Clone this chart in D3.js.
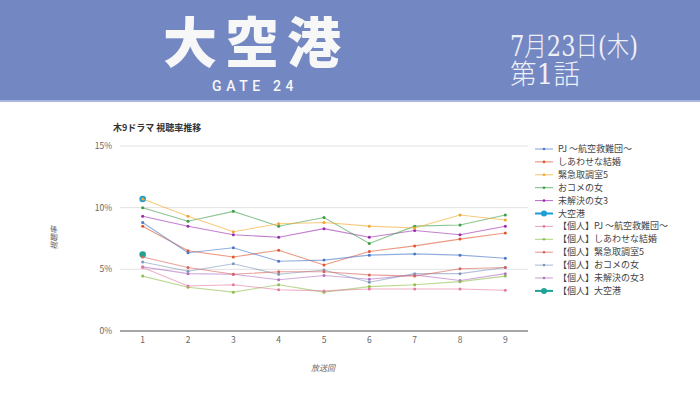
<!DOCTYPE html>
<html>
<head>
<meta charset="utf-8">
<script src="https://cdn.jsdelivr.net/npm/d3@7"></script>
<style>
  body { margin: 0; background: #fff; }
  svg { display: block; font-family: "Noto Sans CJK JP", "Noto Sans", sans-serif; }
</style>
</head>
<body>
<div id="chart"></div>
<script>
// Episodes on the x axis
const episodes = [1, 2, 3, 4, 5, 6, 7, 8, 9];
const yTicks = [0, 5, 10, 15];

// Series names (legend order)
const seriesNames = [
    'PJ ～航空救難団～', 'しあわせな結婚', '緊急取調室5', 'おコメの女', '未解決の女3', '大空港',
    '【個人】PJ ～航空救難団～', '【個人】しあわせな結婚', '【個人】緊急取調室5',
    '【個人】おコメの女', '【個人】未解決の女3', '【個人】大空港'
];
const seriesColors = [
    '#4a78c8', '#e0552f', '#f3a62a', '#3a9e45', '#9b2aae', '#1b9fd6',
    '#e57aa3', '#8cc04a', '#d8645a', '#7f98ba', '#b070c4', '#1fa396'
];

// Ratings (%) per episode
const pj       = [8.8, 6.35, 6.75, 5.65, 5.75, 6.15, 6.25, 6.15, 5.9];
const shiawase = [8.5, 6.5, 6.0, 6.55, 5.35, 6.45, 6.9, 7.45, 7.95];
const kinkyu   = [10.7, 9.3, 8.05, 8.7, 8.8, 8.5, 8.35, 9.4, 9.0];
const okome    = [10.0, 8.9, 9.7, 8.5, 9.2, 7.1, 8.5, 8.6, 9.4];
const mikaiketsu = [9.3, 8.5, 7.8, 7.6, 8.3, 7.6, 8.15, 7.8, 8.5];
const daikuko  = [10.7];
const pjKojin       = [5.15, 3.65, 3.75, 3.35, 3.25, 3.4, 3.4, 3.4, 3.3];
const shiawaseKojin = [4.45, 3.55, 3.15, 3.75, 3.15, 3.6, 3.75, 4.0, 4.45];
const kinkyuKojin   = [6.0, 5.15, 4.6, 4.8, 4.8, 4.55, 4.45, 5.05, 5.15];
const okomeKojin    = [5.6, 4.85, 5.45, 4.6, 4.95, 3.95, 4.65, 4.65, 5.15];
const mikaiketsuKojin = [5.2, 4.65, 4.6, 4.15, 4.5, 4.2, 4.55, 4.1, 4.65];
const daikukoKojin  = [6.2];

const seriesValues = [pj, shiawase, kinkyu, okome, mikaiketsu, daikuko,
    pjKojin, shiawaseKojin, kinkyuKojin, okomeKojin, mikaiketsuKojin, daikukoKojin];

const series = seriesNames.map((name, i) => ({
    name,
    color: seriesColors[i],
    big: name.endsWith('大空港'),
    values: seriesValues[i].map((v, j) => ({ ep: episodes[j], v }))
}));

const W = 700, H = 394;
const svg = d3.select('#chart').append('svg')
    .attr('width', W)
    .attr('height', H);

// Header band
svg.append('rect')
    .attr('width', W).attr('height', 101)
    .attr('fill', '#7387c2');
svg.append('rect')
    .attr('y', 100).attr('width', W).attr('height', 2)
    .attr('fill', '#a9b5dc');

svg.append('text')
    .attr('x', 256).attr('y', 63)
    .attr('text-anchor', 'middle')
    .style('font-size', '54px')
    .style('font-weight', 900)
    .style('letter-spacing', '8px')
    .style('fill', '#f7f7f7')
    .text('大空港');
svg.append('text')
    .attr('x', 212).attr('y', 91)
    .attr('textLength', 86)
    .attr('lengthAdjust', 'spacingAndGlyphs')
    .style('font-family', 'Roboto, "DejaVu Sans", sans-serif')
    .style('font-size', '15px')
    .style('font-weight', 500)
    .style('letter-spacing', '5px')
    .style('fill', '#f7f7f7')
    .text('GATE 24');
svg.append('text')
    .attr('x', 510).attr('y', 56)
    .attr('textLength', 128)
    .attr('lengthAdjust', 'spacingAndGlyphs')
    .style('font-family', '"DejaVu Serif", "Noto Sans CJK JP", serif')
    .style('font-size', '27px')
    .style('font-weight', 300)
    .style('fill', '#eef0f8')
    .text('7月23日(木)');
svg.append('text')
    .attr('x', 510).attr('y', 84)
    .attr('textLength', 70)
    .attr('lengthAdjust', 'spacingAndGlyphs')
    .style('font-family', '"DejaVu Serif", "Noto Sans CJK JP", serif')
    .style('font-size', '27px')
    .style('font-weight', 300)
    .style('fill', '#eef0f8')
    .text('第1話');

// Plot area
const plot = { left: 120, right: 528, top: 146, bottom: 331 };

const x = d3.scalePoint()
    .domain(episodes)
    .range([plot.left, plot.right])
    .padding(0.5);
const y = d3.scaleLinear()
    .domain([0, 15])
    .range([plot.bottom, plot.top]);

svg.append('text')
    .attr('x', 113).attr('y', 131)
    .style('font-size', '9px')
    .style('font-weight', 700)
    .style('fill', '#333')
    .text('木9ドラマ 視聴率推移');

// Gridlines
svg.append('g')
    .selectAll('line')
    .data(yTicks)
    .join('line')
    .attr('x1', plot.left).attr('x2', plot.right)
    .attr('y1', d => y(d)).attr('y2', d => y(d))
    .attr('stroke', d => d === 0 ? '#8a8a8a' : '#e2e2e2')
    .attr('stroke-width', d => d === 0 ? 1.3 : 1);

// Y axis labels
svg.append('g')
    .selectAll('text')
    .data(yTicks)
    .join('text')
    .attr('x', 112).attr('y', d => y(d) + 3)
    .attr('text-anchor', 'end')
    .style('font-size', '8.5px')
    .style('fill', '#666')
    .text(d => d + '%');

// X axis labels
svg.append('g')
    .selectAll('text')
    .data(episodes)
    .join('text')
    .attr('x', d => x(d)).attr('y', 343)
    .attr('text-anchor', 'middle')
    .style('font-size', '8.5px')
    .style('fill', '#666')
    .text(d => d);

svg.append('text')
    .attr('x', 323).attr('y', 371)
    .attr('text-anchor', 'middle')
    .style('font-size', '8px')
    .style('font-style', 'italic')
    .style('fill', '#666')
    .text('放送回');
svg.append('text')
    .attr('transform', 'translate(57,238) rotate(-90)')
    .attr('text-anchor', 'middle')
    .style('font-size', '8px')
    .style('font-style', 'italic')
    .style('fill', '#666')
    .text('視聴率');

// Lines and markers
const line = d3.line()
    .x(d => x(d.ep))
    .y(d => y(d.v));

const drawOrder = series.slice().reverse();
const groups = svg.append('g')
    .selectAll('g')
    .data(drawOrder)
    .join('g');

groups.append('path')
    .attr('d', d => line(d.values))
    .attr('fill', 'none')
    .attr('stroke', d => d.color)
    .attr('stroke-width', 1.1)
    .attr('stroke-opacity', 0.6);

groups.selectAll('circle')
    .data(d => d.values.map(p => ({ ...p, color: d.color, big: d.big })))
    .join('circle')
    .attr('cx', d => x(d.ep))
    .attr('cy', d => y(d.v))
    .attr('r', d => d.big ? 3.3 : 1.5)
    .attr('fill', d => d.color);

// Legend
const legend = svg.append('g')
    .selectAll('g')
    .data(series)
    .join('g')
    .attr('transform', (d, i) => `translate(535, ${149 + i * 12.9})`);

legend.append('line')
    .attr('x1', 0).attr('x2', 18)
    .attr('stroke', d => d.color)
    .attr('stroke-width', d => d.big ? 2 : 1)
    .attr('stroke-opacity', d => d.big ? 1 : 0.7);
legend.append('circle')
    .attr('cx', 9)
    .attr('r', d => d.big ? 3 : 1.3)
    .attr('fill', d => d.color);
legend.append('text')
    .attr('x', 23).attr('y', 3)
    .style('font-size', '9px')
    .style('fill', '#444')
    .text(d => d.name);
</script>
</body>
</html>
